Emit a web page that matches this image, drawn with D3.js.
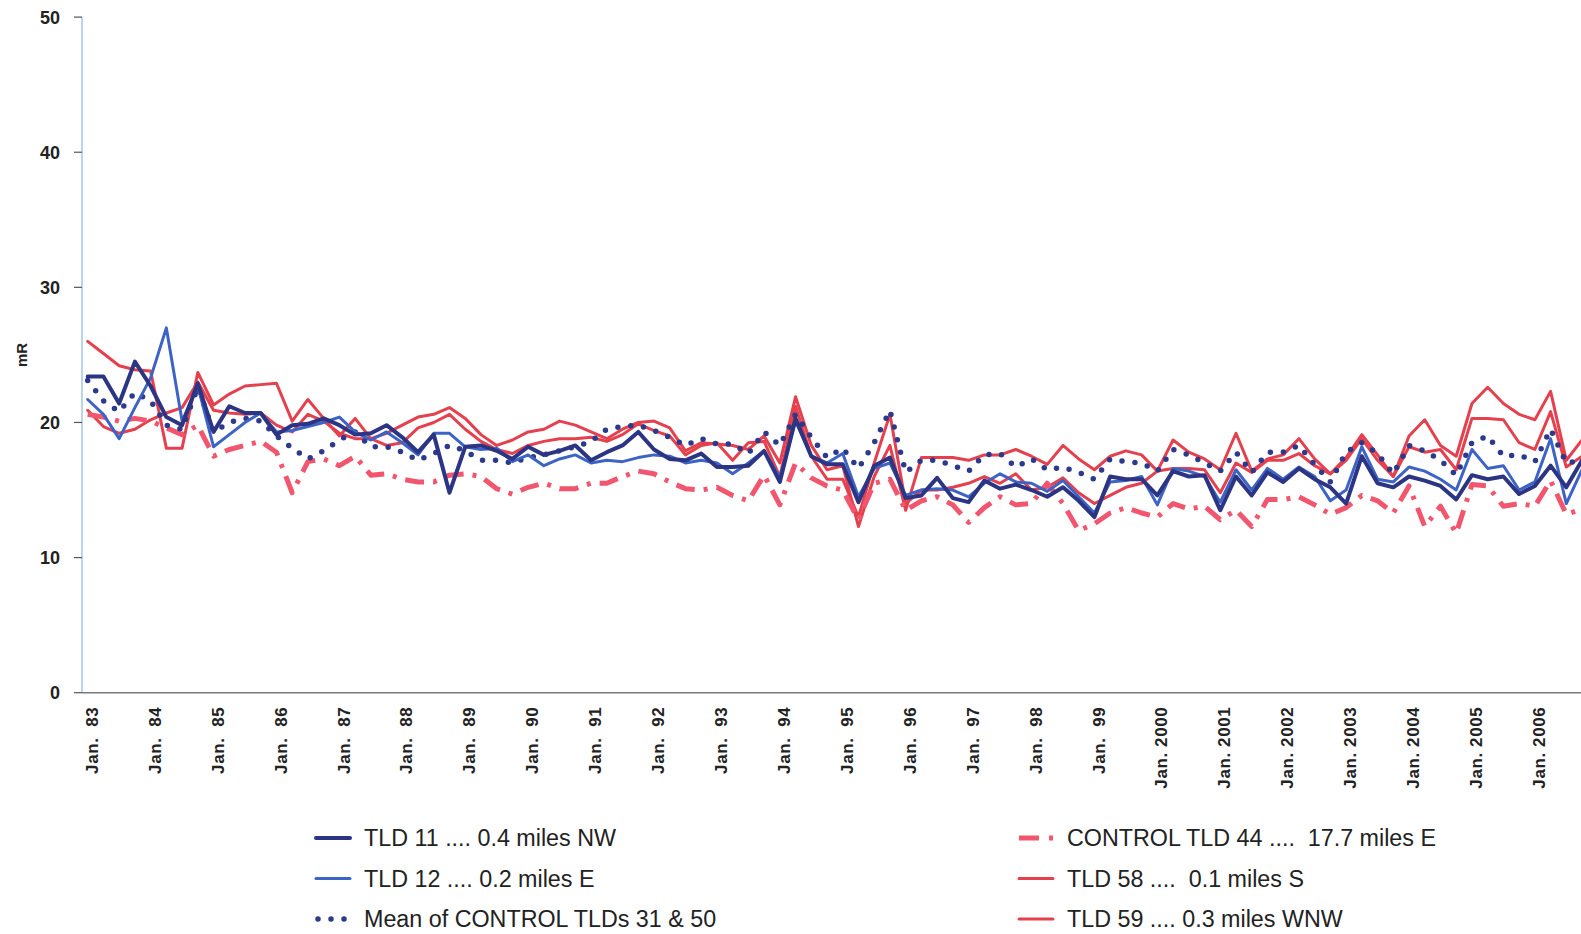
<!DOCTYPE html>
<html>
<head>
<meta charset="utf-8">
<script src="https://cdn.jsdelivr.net/npm/d3@7"></script>
<style>
  body { margin: 0; background: #fff; }
  svg { display: block; font-family: "Liberation Sans", Arial, sans-serif; }
  text { white-space: pre; }
</style>
</head>
<body>
<svg id="chart" width="1581" height="934"></svg>
<script>
// quarterly readings, Jan 83 .. Oct 2006 (mR)
const years = ["83","84","85","86","87","88","89","90","91","92","93","94","95","96","97","98","99",
               "2000","2001","2002","2003","2004","2005","2006"];

const tld11 = [23.4,23.4,21.4,24.5,22.7,20.4,19.8,22.9,19.3,21.2,20.7,20.7,19.1,19.8,19.9,20.3,19.8,19.1,19.2,19.8,
  18.9,17.8,19.1,14.8,18.2,18.3,17.9,17.3,18.2,17.6,17.9,18.3,17.2,
  17.8,18.3,19.3,18.0,17.3,17.2,17.7,16.7,16.7,16.8,17.9,15.6,20.3,17.5,16.9,16.9,14.1,16.8,17.4,14.4,14.6,15.9,
  14.4,14.1,15.7,15.1,15.4,15.0,14.5,15.2,14.2,13.0,
  16.0,15.8,15.8,14.6,16.4,16.0,16.1,13.5,16.0,14.6,16.3,15.6,16.6,15.8,15.2,14.0,17.5,15.5,15.2,16.0,15.7,15.3,
  14.3,16.1,15.8,16.0,14.7,15.3,16.8,15.2,17.2];

const tld12 = [21.7,20.6,18.8,21.1,23.3,27.0,20.1,22.7,18.2,19.1,20.0,20.7,19.3,19.4,19.7,20.0,20.4,19.3,18.7,19.3,
  18.5,17.6,19.2,19.2,18.2,18.0,18.1,17.1,17.6,16.8,17.3,17.6,17.0,
  17.2,17.1,17.4,17.6,17.5,17.0,17.2,17.0,16.2,17.0,17.9,15.9,20.1,17.5,17.0,17.7,14.5,16.6,17.0,14.6,15.0,15.1,
  15.0,14.5,15.5,16.2,15.6,15.5,14.9,15.7,14.5,13.3,
  15.6,15.7,16.0,13.9,16.6,16.4,16.0,14.1,16.5,15.0,16.6,15.8,16.7,16.0,14.2,15.0,18.2,15.8,15.6,16.7,16.4,15.8,
  15.0,18.0,16.6,16.8,15.0,15.6,18.8,14.0,16.5];

const controlMean = [23.1,21.6,20.8,22.2,21.6,19.8,19.5,22.6,19.3,20.0,20.3,20.1,19.0,18.1,17.3,17.9,18.7,19.3,18.2,18.2,
  17.8,17.2,17.7,18.3,17.9,17.2,17.2,17.0,17.4,17.6,17.9,18.2,18.6,
  19.5,19.7,19.8,19.4,18.9,18.3,18.8,18.4,18.4,17.7,19.3,18.3,20.6,18.9,17.4,18.1,16.6,18.5,20.9,16.3,17.2,17.2,
  16.8,16.4,17.6,17.7,16.7,17.3,16.5,16.7,16.3,15.8,
  17.3,17.1,17.0,16.4,18.0,17.6,17.0,16.4,17.8,16.3,17.8,17.8,18.3,16.9,15.6,17.8,18.5,17.7,16.2,18.3,17.9,17.2,
  16.1,18.5,19.0,17.5,17.6,17.1,19.5,17.0,17.2];

const control44 = [20.6,20.4,20.1,20.3,20.1,19.6,19.1,19.8,17.5,18.0,18.3,18.6,17.8,14.8,17.1,17.3,16.8,17.5,16.1,16.2,
  15.8,15.6,15.6,16.1,16.2,16.0,15.1,14.7,15.2,15.5,15.1,15.1,15.5,
  15.5,16.0,16.4,16.2,15.6,15.1,15.0,15.2,14.6,14.2,16.1,13.9,17.0,15.9,15.3,15.0,12.8,15.5,15.8,13.5,14.2,14.5,
  13.9,12.6,13.7,14.5,13.9,14.0,15.5,14.0,12.0,12.5,
  13.3,13.7,13.3,13.0,14.0,13.6,13.8,12.8,13.5,12.3,14.3,14.3,14.5,13.9,13.2,13.7,14.6,14.2,13.3,15.3,12.3,13.8,
  11.8,15.4,15.3,13.8,14.0,13.8,15.7,13.2,13.6];

const tld58 = [26.0,25.1,24.2,23.9,23.8,18.1,18.1,23.7,21.3,22.1,22.7,22.8,22.9,20.1,21.7,20.3,19.0,20.3,18.8,19.2,
  19.8,20.4,20.6,21.1,20.3,19.1,18.3,18.7,19.3,19.5,20.1,19.8,19.3,
  18.8,19.5,20.0,20.1,19.6,17.9,18.5,18.4,18.3,18.0,19.0,17.0,21.9,18.3,16.5,16.8,12.3,16.0,18.3,13.5,17.4,17.4,
  17.4,17.2,17.6,17.6,18.0,17.5,16.9,18.3,17.3,16.5,
  17.5,17.9,17.6,16.4,18.7,17.8,17.3,16.5,19.2,16.4,17.3,17.6,18.8,17.3,16.2,17.4,19.1,17.6,16.0,19.0,20.2,18.3,
  17.5,21.4,22.6,21.4,20.6,20.2,22.3,17.2,18.7];

const tld59 = [20.9,19.7,19.2,19.5,20.2,20.7,21.1,23.0,20.9,20.7,20.6,20.7,19.8,19.3,20.6,20.1,19.2,18.8,18.8,18.3,
  18.5,19.6,20.0,20.6,19.5,18.6,18.0,17.7,18.3,18.6,18.8,18.8,18.9,
  18.6,19.1,19.9,19.4,19.0,17.6,18.3,18.5,17.2,18.5,18.6,16.0,21.2,17.5,15.8,15.8,13.0,17.0,20.6,14.0,15.0,15.0,
  15.2,15.5,16.0,15.5,16.2,15.0,15.2,15.9,14.8,14.0,
  14.6,15.2,15.5,16.4,16.6,16.6,16.5,14.8,17.0,16.3,17.2,17.2,17.7,16.8,16.2,17.2,18.8,17.2,16.0,18.2,17.8,18.0,
  16.5,20.3,20.3,20.2,18.5,18.0,20.8,16.7,17.5];

const yTicks = [0, 10, 20, 30, 40, 50];

const series = [
  { name: "TLD 58 ....  0.1 miles S", values: tld58, color: "#e5404e", width: 3, dash: null, cap: "round" },
  { name: "TLD 59 .... 0.3 miles WNW", values: tld59, color: "#e5404e", width: 3, dash: null, cap: "round" },
  { name: "CONTROL TLD 44 ....  17.7 miles E", values: control44, color: "#f2566e", width: 5, dash: "19 9 4 9", cap: "butt" },
  { name: "Mean of CONTROL TLDs 31 & 50", values: controlMean, color: "#2c3a8c", width: 5.5, dash: "0 13", cap: "round" },
  { name: "TLD 12 .... 0.2 miles E", values: tld12, color: "#3d63c6", width: 3, dash: null, cap: "round" },
  { name: "TLD 11 .... 0.4 miles NW", values: tld11, color: "#2b3583", width: 4, dash: null, cap: "round" }
];

const svg = d3.select("#chart");

const x = d3.scaleLinear().domain([0, tld11.length - 1]).range([87.7, 87.7 + 15.73 * (tld11.length - 1)]);
const y = d3.scaleLinear().domain([0, 50]).range([692.7, 17.1]);

// y axis
const yAxis = svg.append("g").attr("transform", "translate(82,0)");
yAxis.append("line")
  .attr("x1", 0).attr("x2", 0)
  .attr("y1", y(50)).attr("y2", y(0))
  .attr("stroke", "#a9c7e2").attr("stroke-width", 1.5);
yAxis.selectAll("g.tick")
  .data(yTicks)
  .enter().append("g")
  .attr("class", "tick")
  .attr("transform", d => "translate(0," + y(d) + ")")
  .each(function (d) {
    const g = d3.select(this);
    g.append("line").attr("x1", -8).attr("x2", 0).attr("stroke", "#555").attr("stroke-width", 1.2);
    g.append("text")
      .attr("x", -22).attr("dy", "0.36em")
      .attr("text-anchor", "end")
      .attr("font-size", 18).attr("font-weight", "bold").attr("fill", "#222")
      .text(d);
  });

svg.append("text")
  .attr("transform", "translate(27," + y(25) + ") rotate(-90)")
  .attr("text-anchor", "middle")
  .attr("font-size", 15).attr("font-weight", "bold").attr("fill", "#222")
  .text("mR");

// x baseline
svg.append("line")
  .attr("x1", 82).attr("x2", 1581)
  .attr("y1", y(0)).attr("y2", y(0))
  .attr("stroke", "#7a7a7a").attr("stroke-width", 1.5);

// x labels (one per January)
svg.append("g")
  .selectAll("text")
  .data(years)
  .enter().append("text")
  .attr("transform", (d, i) => "translate(" + (x(i * 4) + 4) + "," + (y(0) + 14) + ") rotate(-90)")
  .attr("text-anchor", "end")
  .attr("dy", "0.36em")
  .attr("font-size", 17).attr("font-weight", "bold").attr("fill", "#222")
  .attr("letter-spacing", 0.6)
  .text(d => d.length === 2 ? "Jan.  " + d : "Jan. " + d);

// lines
const line = d3.line()
  .x((d, i) => x(i))
  .y(d => y(d));

svg.append("g")
  .selectAll("path")
  .data(series)
  .enter().append("path")
  .attr("d", d => line(d.values))
  .attr("fill", "none")
  .attr("stroke", d => d.color)
  .attr("stroke-width", d => d.width)
  .attr("stroke-dasharray", d => d.dash)
  .attr("stroke-linecap", d => d.cap)
  .attr("stroke-linejoin", "round");

// legend
const legendOrder = [
  { s: series[5], col: 0, row: 0 },
  { s: series[4], col: 0, row: 1 },
  { s: series[3], col: 0, row: 2 },
  { s: series[2], col: 1, row: 0 },
  { s: series[0], col: 1, row: 1 },
  { s: series[1], col: 1, row: 2 }
];
const legendX = [316, 1019], legendY = 838, legendRowH = 40.5;

const legendItem = svg.append("g")
  .selectAll("g")
  .data(legendOrder)
  .enter().append("g")
  .attr("transform", d => "translate(" + legendX[d.col] + "," + (legendY + d.row * legendRowH) + ")");

legendItem.append("line")
  .attr("x1", d => d.s.dash === "0 13" ? 2 : 0)
  .attr("x2", 34)
  .attr("stroke", d => d.s.color)
  .attr("stroke-width", d => d.s.width)
  .attr("stroke-dasharray", d => d.s.dash === "0 13" ? "0 13" : (d.s.dash ? "20 10 4 10" : null))
  .attr("stroke-linecap", d => d.s.cap);

legendItem.append("text")
  .attr("x", 48)
  .attr("dy", "0.36em")
  .attr("font-size", 23.3)
  .attr("fill", "#222")
  .text(d => d.s.name);
</script>
</body>
</html>
